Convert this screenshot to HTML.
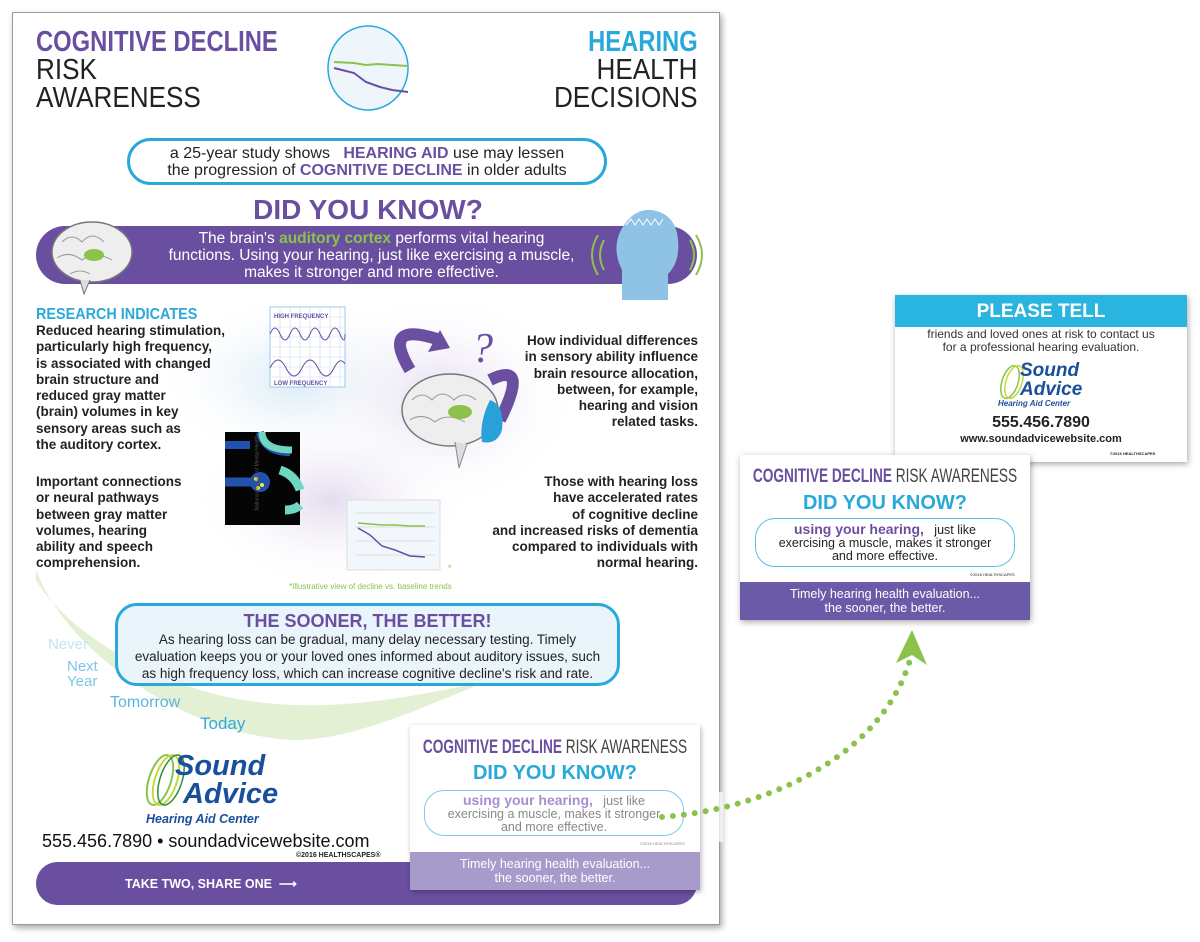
<!DOCTYPE html>
<html><head><meta charset="utf-8"><style>
*{margin:0;padding:0;box-sizing:border-box}
body{width:1200px;height:942px;background:#fff;position:relative;overflow:hidden;font-family:"Liberation Sans",sans-serif;color:#222}
.a{position:absolute;white-space:nowrap}
.c{text-align:center}
.n{display:inline-block;transform:scaleX(.82);transform-origin:left center}
.p{color:#6a4fa0}.cy{color:#29a9d9}
.hd{position:absolute;white-space:nowrap;font-size:19px;line-height:22px;transform:translateX(-50%) scaleX(.72)}
</style></head><body>
<div class="a" style="left:12px;top:12px;width:708px;height:913px;border:1px solid #999;box-shadow:2px 3px 6px rgba(0,0,0,.35);background:#fff"></div>

<svg class="a" style="left:0;top:0" width="1200" height="942">
<defs><radialGradient id="g1" cx=".5" cy=".5" r=".5"><stop offset="0" stop-color="#d8eaf5"/><stop offset="1" stop-color="#fff" stop-opacity="0"/></radialGradient>
<radialGradient id="g2" cx=".5" cy=".5" r=".5"><stop offset="0" stop-color="#e4dcef"/><stop offset="1" stop-color="#fff" stop-opacity="0"/></radialGradient></defs>
<ellipse cx="300" cy="380" rx="150" ry="90" fill="url(#g1)"/>
<ellipse cx="440" cy="400" rx="140" ry="110" fill="url(#g2)"/>
<ellipse cx="330" cy="500" rx="140" ry="90" fill="url(#g2)"/>
<path d="M36 570 C70 660 200 740 300 740 C360 738 440 700 490 680 C400 700 300 720 200 690 C120 665 60 620 36 580 Z" fill="#e3f0d4"/>
<ellipse cx="368" cy="68" rx="40" ry="42" fill="#eef5fb" stroke="#29a9d9" stroke-width="1.5"/>
<polyline points="334,62 354,63 366,65 378,64 392,65 408,66" fill="none" stroke="#8bc34a" stroke-width="2"/>
<polyline points="334,68 354,73 366,82 380,87 392,90 408,92" fill="none" stroke="#6a4fa0" stroke-width="2"/>
</svg>

<div class="a" style="left:36px;top:26px;font-size:29px;font-weight:bold;line-height:32px"><span class="n p">COGNITIVE DECLINE</span></div>
<div class="a" style="left:36px;top:56px;font-size:29px;line-height:28px;color:#222"><span class="n" style="transform:scaleX(.9)">RISK<br>AWARENESS</span></div>
<div class="a" style="right:502px;top:26px;font-size:29px;font-weight:bold;line-height:32px;text-align:right"><span class="n cy" style="transform-origin:right center">HEARING</span></div>
<div class="a" style="right:502px;top:56px;font-size:29px;line-height:28px;text-align:right"><span class="n" style="transform:scaleX(.9);transform-origin:right center">HEALTH<br>DECISIONS</span></div>

<div class="a c" style="left:127px;top:138px;width:480px;height:47px;border:3px solid #29a9d9;border-radius:24px;font-size:16px;line-height:17px;padding-top:4px">a 25-year study shows &nbsp; <b class="p">HEARING AID</b> use may lessen<br>the progression of <b class="p">COGNITIVE DECLINE</b> in older adults</div>

<div class="a c p" style="left:168px;top:194px;width:400px;font-size:28px;font-weight:bold">DID YOU KNOW?</div>

<div class="a c" style="left:36px;top:226px;width:661px;height:58px;background:#6a4fa0;border-radius:29px;color:#fff;font-size:15.5px;line-height:17px;padding-top:4px;padding-left:10px">The brain's <b style="color:#8bc34a">auditory cortex</b> performs vital hearing<br>functions. Using your hearing, just like exercising a muscle,<br>makes it stronger and more effective.</div>
<svg class="a" style="left:0;top:0" width="720" height="320">
<ellipse cx="92" cy="252" rx="40" ry="30" fill="#eee" stroke="#777" stroke-width="1.5"/>
<path d="M62 242 q10 -10 20 0 q10 -12 22 0 M57 258 q12 -8 25 2 q12 -10 30 0 M70 274 q10 -6 20 0" stroke="#999" fill="none"/>
<ellipse cx="94" cy="255" rx="10" ry="6" fill="#8bc34a"/>
<path d="M80 280 l4 14 l6 -14" fill="#ddd" stroke="#777"/>
<path d="M622 300 L622 270 Q612 250 620 232 Q632 208 652 210 Q676 214 678 240 Q680 262 668 274 L668 300 Z" fill="#8ec3e6"/>
<path d="M626 225 l5 -6 l4 6 l4 -6 l4 6 l4 -6 l4 6 l4 -6 l4 6 l4 -6" stroke="#fff" fill="none"/>
<path d="M604 240 q-8 15 0 30 M598 235 q-12 20 0 40 M690 240 q8 15 0 30 M696 235 q12 20 0 40" stroke="#8bc34a" stroke-width="2" fill="none"/>
</svg>

<div class="a cy" style="left:36px;top:306px;font-size:16px;font-weight:bold"><span class="n" style="transform:scaleX(.9)">RESEARCH INDICATES</span></div>
<div class="a" style="left:36px;top:323px;font-size:13.5px;font-weight:bold;line-height:16.3px;color:#222">Reduced hearing stimulation,<br>particularly high frequency,<br>is associated with changed<br>brain structure and<br>reduced gray matter<br>(brain) volumes in key<br>sensory areas such as<br>the auditory cortex.</div>
<div class="a" style="left:36px;top:474px;font-size:13.5px;font-weight:bold;line-height:16.3px">Important connections<br>or neural pathways<br>between gray matter<br>volumes, hearing<br>ability and speech<br>comprehension.</div>
<div class="a" style="right:502px;top:333px;font-size:13.5px;font-weight:bold;line-height:16.3px;text-align:right">How individual differences<br>in sensory ability influence<br>brain resource allocation,<br>between, for example,<br>hearing and vision<br>related tasks.</div>
<div class="a" style="right:502px;top:474px;font-size:13.5px;font-weight:bold;line-height:16.3px;text-align:right">Those with hearing loss<br>have accelerated rates<br>of cognitive decline<br>and increased risks of dementia<br>compared to individuals with<br>normal hearing.</div>

<svg class="a" style="left:0;top:0" width="720" height="600">
<rect x="270" y="307" width="75" height="80" fill="#fff" stroke="#9cc9e8"/>
<g stroke="#c9def0" stroke-width=".6"><path d="M270 317h75M270 327h75M270 337h75M270 347h75M270 357h75M270 367h75M270 377h75M280 307v80M290 307v80M300 307v80M310 307v80M320 307v80M330 307v80M340 307v80"/></g>
<path d="M270 334 q5 -12 10 0 q5 12 10 0 q5 -12 10 0 q5 12 10 0 q5 -12 10 0 q5 12 10 0 q5 -12 10 0 q5 12 5 0" stroke="#6a4fa0" fill="none"/>
<path d="M270 368 q8 -16 16 0 q8 16 16 0 q8 -16 16 0 q8 16 16 0 q6 -12 11 -4" stroke="#6a4fa0" fill="none"/>
<text x="274" y="318" font-size="6" font-weight="bold" fill="#6a4fa0" font-family="Liberation Sans">HIGH FREQUENCY</text>
<text x="274" y="385" font-size="6" font-weight="bold" fill="#6a4fa0" font-family="Liberation Sans">LOW FREQUENCY</text>
<rect x="225" y="432" width="75" height="93" fill="#050505"/>
<path d="M225 445 h25 M260 432 q5 20 30 20" stroke="#2252b0" stroke-width="8" fill="none"/>
<path d="M262 432 q0 18 30 18" stroke="#6fd6c0" stroke-width="7" fill="none"/>
<path d="M225 482 h30" stroke="#2252b0" stroke-width="9"/>
<circle cx="260" cy="482" r="10" fill="#2252b0"/>
<path d="M280 470 q15 5 20 20 M285 510 q10 0 15 -5" stroke="#6fd6c0" stroke-width="9" fill="none"/>
<circle cx="256" cy="479" r="2" fill="#ee3"/><circle cx="262" cy="485" r="2" fill="#ee3"/><circle cx="258" cy="488" r="2" fill="#ee3"/>
<path d="M410 370 q-30 -50 30 -30" stroke="#6a4fa0" stroke-width="12" fill="none"/>
<path d="M440 330 l10 18 l-22 4 z" fill="#6a4fa0"/>
<path d="M490 380 q40 -20 10 40" stroke="#6a4fa0" stroke-width="12" fill="none"/>
<ellipse cx="450" cy="410" rx="48" ry="36" fill="#eee" stroke="#777" stroke-width="1.5"/>
<path d="M412 400 q10 -10 20 0 q10 -12 22 0 q10 -10 22 0 M410 420 q12 -8 25 2 q12 -10 30 0" stroke="#999" fill="none"/>
<ellipse cx="460" cy="412" rx="12" ry="7" fill="#8bc34a"/>
<path d="M490 400 q15 5 12 30 q-5 15 -20 12 q-3 -20 8 -42z" fill="#29a0d8"/>
<path d="M455 442 l4 26 l8 -24" fill="#ddd" stroke="#888"/>
<text x="472" y="362" font-size="42" fill="#6a4fa0" font-family="Liberation Serif" font-style="italic">?</text>
<rect x="347" y="500" width="93" height="70" fill="#f2f7fc" stroke="#ddd"/>
<path d="M355 513h80M355 527h80M355 541h80M355 555h80" stroke="#ccc" stroke-width=".6"/>
<polyline points="358,523 370,524 382,525 395,525 410,526 425,526" stroke="#8bc34a" fill="none" stroke-width="1.5"/>
<polyline points="358,528 370,535 382,546 395,550 410,556 425,557" stroke="#6a4fa0" fill="none" stroke-width="1.5"/>
</svg>
<div class="a" style="left:220px;top:470px;font-size:5px;color:#555;transform:rotate(-90deg)">National Institute of Mental Health</div>
<div class="a" style="left:289px;top:582px;font-size:8px;color:#8bc34a">*Illustrative view of decline vs. baseline trends</div>
<div class="a" style="left:448px;top:563px;font-size:9px;color:#8bc34a">*</div>

<div class="a" style="left:48px;top:636px;font-size:15px;color:#bfe3f2">Never</div>
<div class="a" style="left:67px;top:659px;font-size:15px;line-height:15px;color:#7ec6e6">Next<br>Year</div>
<div class="a" style="left:110px;top:694px;font-size:16px;color:#5bb5e0">Tomorrow</div>
<div class="a" style="left:200px;top:714px;font-size:17px;color:#34a8dc">Today</div>

<div class="a c" style="left:115px;top:603px;width:505px;height:83px;border:3px solid #29a9d9;border-radius:22px;background:#eaf4fb;font-size:13.5px;line-height:17px;padding-top:5px">
<div class="p" style="font-size:18px;font-weight:bold;line-height:20px">THE SOONER, THE BETTER!</div>As hearing loss can be gradual, many delay necessary testing. Timely<br>evaluation keeps you or your loved ones informed about auditory issues, such<br>as high frequency loss, which can increase cognitive decline's risk and rate.</div>

<svg class="a" style="left:138px;top:752px" width="50" height="60"><ellipse cx="22" cy="28" rx="11" ry="26" transform="rotate(18 22 28)" fill="none" stroke="#8bc34a" stroke-width="2"/><ellipse cx="28" cy="28" rx="11" ry="26" transform="rotate(18 28 28)" fill="none" stroke="#c6d93a" stroke-width="2"/><ellipse cx="33" cy="28" rx="11" ry="26" transform="rotate(18 33 28)" fill="none" stroke="#2f8f3a" stroke-width="1.5"/></svg>
<div class="a" style="left:175px;top:752px;font-size:29px;font-style:italic;font-weight:bold;color:#1a4f9c;line-height:28px">Sound<br>&nbsp;Advice</div>
<div class="a" style="left:146px;top:812px;font-size:12.5px;font-style:italic;font-weight:bold;color:#1a4f9c">Hearing Aid Center</div>
<div class="a" style="left:42px;top:831px;font-size:18px;color:#111">555.456.7890 • soundadvicewebsite.com</div>
<div class="a" style="left:296px;top:852px;font-size:7px;font-weight:bold">©2016 HEALTHSCAPES®</div>

<div class="a" style="left:36px;top:862px;width:661px;height:43px;background:#6a4fa0;border-radius:22px"></div>
<div class="a" style="left:125px;top:876px;font-size:12.5px;font-weight:bold;color:#fff">TAKE TWO, SHARE ONE &nbsp;⟶</div>

<div class="a" style="left:393px;top:792px;width:330px;height:50px;background:rgba(255,255,255,.7)"></div>
<div class="a" style="left:410px;top:725px;width:290px;height:165px;background:rgba(255,255,255,.85);box-shadow:1px 2px 5px rgba(0,0,0,.3)"></div>
<div class="hd" style="left:555px;top:737px"><b class="p">COGNITIVE DECLINE</b> <span style="color:#444">RISK AWARENESS</span></div>
<div class="a c cy" style="left:410px;top:762px;width:290px;font-size:20px;font-weight:bold">DID YOU KNOW?</div>
<div class="a c" style="left:424px;top:790px;width:260px;height:46px;border:1.5px solid #7ccbea;border-radius:20px;font-size:12.5px;line-height:13px;padding-top:3px;color:#888"><b style="color:#a58fd0;font-size:14px">using your hearing,</b> &nbsp; just like<br>exercising a muscle, makes it stronger<br>and more effective.</div>
<div class="a" style="left:640px;top:841px;font-size:4px;color:#888">©2016 HEALTHSCAPES</div>
<div class="a c" style="left:410px;top:852px;width:290px;height:38px;background:#a79bcb;color:#fff;font-size:12.5px;line-height:14px;padding-top:5px">Timely hearing health evaluation...<br>the sooner, the better.</div>

<svg class="a" style="left:0;top:0" width="1200" height="942">
<path d="M662 817 C760 810 880 760 910 660" fill="none" stroke="#8bc34a" stroke-width="6" stroke-linecap="round" stroke-dasharray="0 11"/>
<path d="M912 630 L927 665 L912 655 L896 663 Z" fill="#8bc34a"/>
</svg>

<div class="a" style="left:895px;top:295px;width:292px;height:167px;background:#fff;box-shadow:1px 2px 6px rgba(0,0,0,.35)"></div>
<div class="a c" style="left:895px;top:295px;width:292px;height:32px;background:#2ab4e0;color:#fff;font-size:19px;font-weight:bold;line-height:34px">PLEASE TELL</div>
<div class="a c" style="left:895px;top:328px;width:292px;font-size:12px;line-height:13px;color:#333">friends and loved ones at risk to contact us<br>for a professional hearing evaluation.</div>
<svg class="a" style="left:996px;top:362px" width="30" height="40"><ellipse cx="14" cy="20" rx="8" ry="17" transform="rotate(18 14 20)" fill="none" stroke="#8bc34a" stroke-width="1.5"/><ellipse cx="18" cy="20" rx="8" ry="17" transform="rotate(18 18 20)" fill="none" stroke="#c6d93a" stroke-width="1.5"/></svg>
<div class="a" style="left:1020px;top:361px;font-size:19px;font-style:italic;font-weight:bold;color:#1a4f9c;line-height:19px">Sound<br>Advice</div>
<div class="a" style="left:998px;top:399px;font-size:8px;font-style:italic;font-weight:bold;color:#1a4f9c">Hearing Aid Center</div>
<div class="a c" style="left:895px;top:414px;width:292px;font-size:16px;font-weight:bold">555.456.7890</div>
<div class="a c" style="left:895px;top:433px;width:292px;font-size:11px;font-weight:bold">www.soundadvicewebsite.com</div>
<div class="a" style="left:1110px;top:451px;font-size:4px;font-weight:bold">©2016 HEALTHSCAPES</div>

<div class="a" style="left:740px;top:455px;width:290px;height:165px;background:#fff;box-shadow:1px 2px 6px rgba(0,0,0,.35)"></div>
<div class="hd" style="left:885px;top:466px"><b class="p">COGNITIVE DECLINE</b> <span style="color:#444">RISK AWARENESS</span></div>
<div class="a c cy" style="left:740px;top:492px;width:290px;font-size:20px;font-weight:bold">DID YOU KNOW?</div>
<div class="a c" style="left:755px;top:518px;width:260px;height:49px;border:1.5px solid #5bbde8;border-radius:20px;font-size:12.5px;line-height:13px;padding-top:4px;color:#222"><b class="p" style="font-size:14px">using your hearing,</b> &nbsp; just like<br>exercising a muscle, makes it stronger<br>and more effective.</div>
<div class="a" style="left:970px;top:572px;font-size:4px">©2016 HEALTHSCAPES</div>
<div class="a c" style="left:740px;top:582px;width:290px;height:38px;background:#6a5aa8;color:#fff;font-size:12.5px;line-height:14px;padding-top:5px">Timely hearing health evaluation...<br>the sooner, the better.</div>
</body></html>
